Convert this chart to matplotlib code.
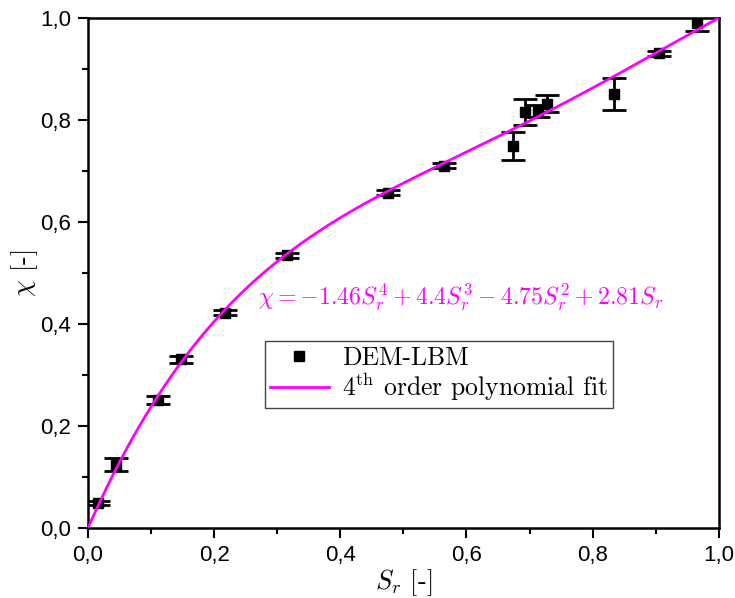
import numpy as np
import matplotlib
matplotlib.use('Agg')
from matplotlib import pyplot as plt
from matplotlib.ticker import MultipleLocator, FuncFormatter

# DEM-LBM results
sr = [0.016, 0.044, 0.111, 0.147, 0.217, 0.315, 0.475, 0.564,
      0.674, 0.693, 0.713, 0.728, 0.834, 0.905, 0.965]
chi = [0.049, 0.124, 0.251, 0.331, 0.422, 0.535, 0.657, 0.710,
       0.749, 0.816, 0.818, 0.832, 0.851, 0.931, 0.990]
chi_err = [0.004, 0.013, 0.008, 0.007, 0.005, 0.005, 0.005, 0.005,
           0.028, 0.025, 0.012, 0.016, 0.031, 0.005, 0.015]

# 4th order polynomial fit coefficients (highest order first)
coeffs = [-1.46, 4.4, -4.75, 2.81, 0.0]

plt.rcParams['mathtext.fontset'] = 'cm'
plt.rcParams['axes.unicode_minus'] = False

fig = plt.figure(figsize=(7.35, 5.98), dpi=100)
ax = fig.add_axes([0.1197, 0.117, 0.8583, 0.853])

xs = np.linspace(0, 1, 300)
ax.plot(xs, np.polyval(coeffs, xs), color='#ff00ff', lw=2, zorder=3,
        label=r'4$^{\rm th}$ order polynomial fit')
ax.errorbar(sr, chi, yerr=chi_err, fmt='s', color='black', ms=7.5,
            elinewidth=2, capsize=8.5, capthick=2, zorder=2)
ax.plot([], [], 's', color='black', ms=7.5, label='DEM-LBM')

ax.text(0.27, 0.453, r'$\chi = -1.46S_r^4 + 4.4S_r^3 - 4.75S_r^2 + 2.81S_r$',
        color='#ff00ff', fontsize=17.2, va='center', ha='left')

h, l = ax.get_legend_handles_labels()
leg = ax.legend(h[::-1], l[::-1], loc='lower left', bbox_to_anchor=(0.272, 0.225),
                prop={'family': 'cmr10', 'size': 18.5}, fancybox=False,
                edgecolor='#444444', framealpha=1, borderpad=0.2,
                handlelength=2.3, handletextpad=0.5, labelspacing=0.05,
                borderaxespad=0.2)
leg.get_frame().set_linewidth(1.0)

ax.set_xlim(0, 1)
ax.set_ylim(0, 1)
ax.xaxis.set_major_locator(MultipleLocator(0.2))
ax.xaxis.set_minor_locator(MultipleLocator(0.1))
ax.yaxis.set_major_locator(MultipleLocator(0.2))
ax.yaxis.set_minor_locator(MultipleLocator(0.1))
comma = FuncFormatter(lambda v, p: ('%.1f' % v).replace('.', ','))
ax.xaxis.set_major_formatter(comma)
ax.yaxis.set_major_formatter(comma)
ax.tick_params(which='major', direction='out', length=7, width=1.5,
               labelsize=16, pad=5)
ax.tick_params(which='minor', direction='out', length=4, width=1.5)
for lab in ax.get_xticklabels() + ax.get_yticklabels():
    lab.set_fontfamily('Liberation Sans')
for s in ax.spines.values():
    s.set_linewidth(1.8)

ax.set_xlabel(r'$S_r$ [-]', family='cmr10', fontsize=19, labelpad=1)
ax.set_ylabel(r'$\chi$ [-]', family='cmr10', fontsize=19, labelpad=0)

fig.savefig('out.png', dpi=100)
